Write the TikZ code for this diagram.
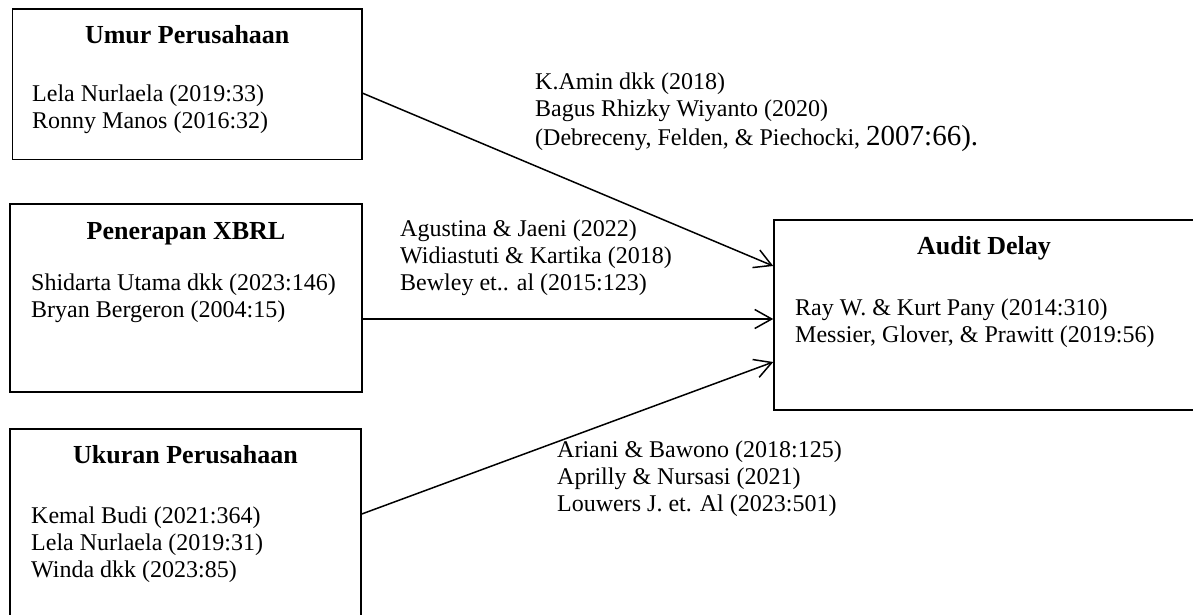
\documentclass[tikz,border=0pt]{standalone}
\usepackage{fontspec}
\setmainfont{Liberation Serif}
\usetikzlibrary{arrows.meta}
\newcommand{\refs}[1]{\begin{tabular}[t]{@{}l@{}}#1\end{tabular}}
\tikzset{
    box/.style={draw=black, rectangle, line width=1.5pt, inner sep=0pt},
    ttl/.style={font=\fontsize{26}{30}\selectfont\bfseries, inner sep=0pt, anchor=base},
    txt/.style={font=\fontsize{24}{27}\selectfont, inner sep=0pt, anchor=base west},
    e1/.style={draw=black, -{Straight Barb[length=17pt, width=19pt]}, line width=1.5pt}
}

\begin{document}
\begin{tikzpicture}[x=1pt, y=-1pt]

\useasboundingbox (0,0) rectangle (1193,615);
\clip (0,0) rectangle (1193,615);

% Box 1 (Umur Perusahaan)
\node[box, minimum width=349.5pt, minimum height=150.5pt] (umur) at (187.25,84.25) {};
\node[ttl] (umurT) at ([yshift=-35pt]umur.north) {Umur Perusahaan};
\node[txt] (umurR) at (32,102) {\refs{Lela Nurlaela (2019:33)\\ Ronny Manos (2016:32)}};

% Box 2 (Penerapan XBRL)
\node[box, minimum width=352pt, minimum height=188pt] (xbrl) at (186,298) {};
\node[ttl] (xbrlT) at ([yshift=-36pt]xbrl.north) {Penerapan XBRL};
\node[txt] (xbrlR) at (31,290) {\refs{Shidarta Utama dkk (2023:146)\\ Bryan Bergeron (2004:15)}};

% Box 3 (Ukuran Perusahaan), cut off at the bottom
\node[box, minimum width=351pt, minimum height=196pt] (ukuran) at (185.5,527) {};
\node[ttl] (ukuranT) at ([yshift=-35pt]ukuran.north) {Ukuran Perusahaan};
\node[txt] (ukuranR) at (31,523) {\refs{Kemal Budi (2021:364)\\ Lela Nurlaela (2019:31)\\ Winda dkk (2023:85)}};

% Box 4 (Audit Delay), cut off on the right
\node[box, minimum width=420pt, minimum height=190pt] (delay) at (984,315) {};
\node[ttl] (delayT) at ([yshift=-35pt]delay.north) {Audit Delay};
\node[txt] (delayR) at (795,315) {\refs{Ray W. \& Kurt Pany (2014:310)\\ Messier, Glover, \& Prawitt (2019:56)}};

% Labels of the arrows
\node[txt] (lab1) at (535,90) {\refs{K.Amin dkk (2018)\\ Bagus Rhizky Wiyanto (2020)\\
    (Debreceny, Felden, \& Piechocki, {\fontsize{29}{27}\selectfont 2007:66).}}};
\node[txt] (lab2) at (400,236) {\refs{Agustina \& Jaeni (2022)\\ Widiastuti \& Kartika (2018)\\ Bewley et.. al (2015:123)}};
\node[txt] (lab3) at (557,457) {\refs{Ariani \& Bawono (2018:125)\\ Aprilly \& Nursasi (2021)\\ Louwers J. et. Al (2023:501)}};

% Arrows
\draw[e1] ([yshift=-9pt]umur.east) -- ([yshift=49pt]delay.west);
\draw[e1] ([yshift=-21pt]xbrl.east) -- ([yshift=-4pt]delay.west);
\draw[e1] ([yshift=13pt]ukuran.east) -- ([yshift=-47pt]delay.west);

\end{tikzpicture}
\end{document}
